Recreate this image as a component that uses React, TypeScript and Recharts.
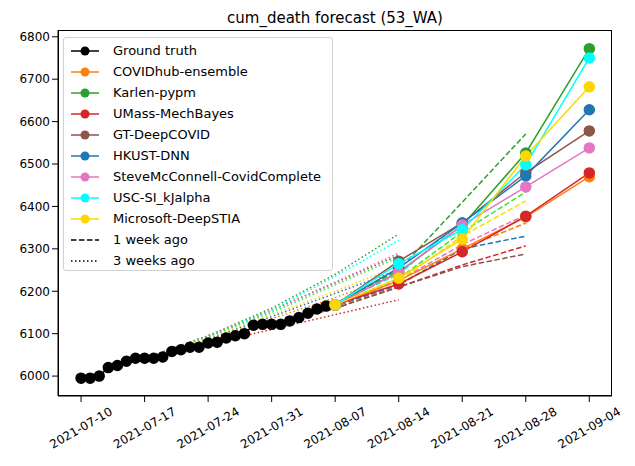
import React from "react";
import { LineChart, Line, XAxis, YAxis } from "recharts";

const tickDays = [0, 7, 14, 21, 28, 35, 42, 49, 56];
const tickLabels = ["2021-07-10","2021-07-17","2021-07-24","2021-07-31","2021-08-07","2021-08-14","2021-08-21","2021-08-28","2021-09-04"];
const yTicks = [6000, 6100, 6200, 6300, 6400, 6500, 6600, 6700, 6800];

const truthDays = [0,1,2,3,4,5,6,7,8,9,10,11,12,13,14,15,16,17,18,19,20,21,22,23,24,25,26,27,28];
const truthVals = [5995,5995,6000,6020,6025,6035,6042,6042,6042,6045,6058,6062,6068,6068,6078,6080,6090,6095,6100,6120,6122,6122,6122,6130,6138,6148,6158,6165,6168];

const fcDays = [28, 35, 42, 49, 56];
const ensembleNow = [6168, 6225, 6300, 6375, 6470];
const karlenNow = [6168, 6245, 6355, 6526, 6772];
const umassNow = [6168, 6217, 6293, 6377, 6479];
const gtNow = [6168, 6271, 6361, 6480, 6578];
const hkustNow = [6168, 6255, 6361, 6472, 6628];
const steveNow = [6168, 6245, 6356, 6446, 6538];
const uscNow = [6168, 6265, 6345, 6498, 6750];
const msNow = [6168, 6231, 6323, 6519, 6682];

const wk1Days = [21, 28, 35, 42, 49];
const ensembleW1 = [6122, 6165, 6215, 6300, 6361];
const karlenW1 = [6122, 6170, 6250, 6410, 6571];
const umassW1 = [6122, 6160, 6210, 6262, 6307];
const gtW1 = [6122, 6160, 6210, 6258, 6288];
const hkustW1 = [6122, 6165, 6215, 6300, 6330];
const steveW1 = [6122, 6165, 6225, 6310, 6380];
const uscW1 = [6122, 6170, 6240, 6365];
const msW1 = [6122, 6168, 6225, 6330, 6413];
const otherW1 = [6122, 6168, 6230, 6340, 6434];

const wk3Days = [7, 14, 21, 28, 35];
const ensembleW3 = [6042, 6085, 6135, 6185, 6240];
const karlenW3 = [6042, 6095, 6160, 6240, 6335];
const umassW3 = [6042, 6075, 6110, 6145, 6180];
const gtW3 = [6042, 6095, 6155, 6220, 6285];
const hkustW3 = [6042, 6088, 6140, 6195, 6250];
const steveW3 = [6042, 6095, 6155, 6222, 6290];
const uscW3 = [6042, 6092, 6155, 6235, 6320];
const msW3 = [6042, 6090, 6145, 6200, 6260];
const otherW3 = [6042, 6093, 6150, 6215, 6280];

const C = {
  ens: "#ff7f0e", karlen: "#2ca02c", umass: "#d62728", gt: "#8c564b", hkust: "#1f77b4",
  steve: "#e377c2", usc: "#00ffff", ms: "#ffd700", other: "#33e833",
};

const mk = (days: number[], vals: number[]) => vals.map((v, i) => ({ t: days[i], v }));

const solid: [string, string, number[]][] = [
  ["COVIDhub-ensemble", C.ens, ensembleNow],
  ["Karlen-pypm", C.karlen, karlenNow],
  ["UMass-MechBayes", C.umass, umassNow],
  ["GT-DeepCOVID", C.gt, gtNow],
  ["HKUST-DNN", C.hkust, hkustNow],
  ["SteveMcConnell-CovidComplete", C.steve, steveNow],
  ["USC-SI_kJalpha", C.usc, uscNow],
  ["Microsoft-DeepSTIA", C.ms, msNow],
];
const dashed: [string, number[]][] = [
  [C.ens, ensembleW1], [C.karlen, karlenW1], [C.umass, umassW1], [C.gt, gtW1], [C.hkust, hkustW1],
  [C.steve, steveW1], [C.usc, uscW1], [C.ms, msW1], [C.other, otherW1],
];
const dotted: [string, number[]][] = [
  [C.ens, ensembleW3], [C.karlen, karlenW3], [C.umass, umassW3], [C.gt, gtW3], [C.hkust, hkustW3],
  [C.steve, steveW3], [C.usc, uscW3], [C.ms, msW3], [C.other, otherW3],
];

const font = "DejaVu Sans, sans-serif";

const XTick = (p: any) => {
  const { x, y, payload } = p;
  const lab = tickLabels[tickDays.indexOf(payload.value)];
  return (
    <g transform={`translate(${x},${y + 24})`}>
      <text transform="rotate(-30)" textAnchor="middle" dy={4} fontSize={12} fill="#000" fontFamily={font}>{lab}</text>
    </g>
  );
};

export default function App() {
  const legendItems: [string, string, string][] = [
    ["Ground truth", "#000", "m"],
    ...solid.map(([n, c]) => [n, c, "m"] as [string, string, string]),
    ["1 week ago", "#000", "dash"],
    ["3 weeks ago", "#000", "dot"],
  ];
  return (
    <div style={{ position: "absolute", left: 0, top: 0, width: 635, height: 466, background: "#fff", fontFamily: font }}>
      <div style={{ position: "absolute", top: 9, left: 58, width: 554, textAlign: "center", fontSize: 15 }}>cum_death forecast (53_WA)</div>
      <LineChart width={635} height={466} margin={{ top: 30, right: 23, bottom: 10, left: 8 }}>
        <XAxis dataKey="t" type="number" domain={[-2.54, 58.5]} ticks={tickDays} tick={<XTick />} height={60}
          stroke="#000" tickLine={{ stroke: "#000" }} allowDataOverflow />
        <YAxis type="number" domain={[5953, 6816]} ticks={yTicks} width={50} stroke="#000"
          tick={{ fontSize: 12, fill: "#000", fontFamily: font }} allowDataOverflow />
        {dotted.map(([c, v], i) => (
          <Line key={"d3" + i} data={mk(wk3Days, v)} dataKey="v" stroke={c} strokeWidth={1.5} strokeDasharray="1.5 2.5" dot={false} isAnimationActive={false} />
        ))}
        {dashed.map(([c, v], i) => (
          <Line key={"d1" + i} data={mk(wk1Days, v)} dataKey="v" stroke={c} strokeWidth={1.5} strokeDasharray="5.5 2.5" dot={false} isAnimationActive={false} />
        ))}
        <Line data={mk(truthDays, truthVals)} dataKey="v" stroke="#000" strokeWidth={1.5} dot={{ r: 5, fill: "#000", stroke: "#000" }} isAnimationActive={false} />
        {solid.map(([n, c, v]) => (
          <Line key={n} data={mk(fcDays, v)} dataKey="v" stroke={c} strokeWidth={1.5} dot={{ r: 5, fill: c, stroke: c }} isAnimationActive={false} />
        ))}
      </LineChart>
      <div style={{ position: "absolute", top: 30, left: 58, width: 554, height: 366, border: "1px solid #000", boxSizing: "border-box", pointerEvents: "none" }} />
      <div style={{ position: "absolute", left: 63, top: 37, width: 270, height: 234, border: "1px solid #d0d0d0", borderRadius: 3, background: "rgba(255,255,255,0.85)", boxSizing: "border-box", padding: "2px 0 0 6px" }}>
        {legendItems.map(([n, c, k]) => (
          <div key={n} style={{ display: "flex", alignItems: "center", height: 21, fontSize: 13 }}>
            <svg width={30} height={12} style={{ marginRight: 13 }}>
              <line x1={1} y1={6} x2={29} y2={6} stroke={c} strokeWidth={1.5} strokeDasharray={k === "dash" ? "5.5 2.5" : k === "dot" ? "1.5 2.5" : undefined} />
              {k === "m" && <circle cx={15} cy={6} r={4.5} fill={c} />}
            </svg>
            <span>{n}</span>
          </div>
        ))}
      </div>
    </div>
  );
}
